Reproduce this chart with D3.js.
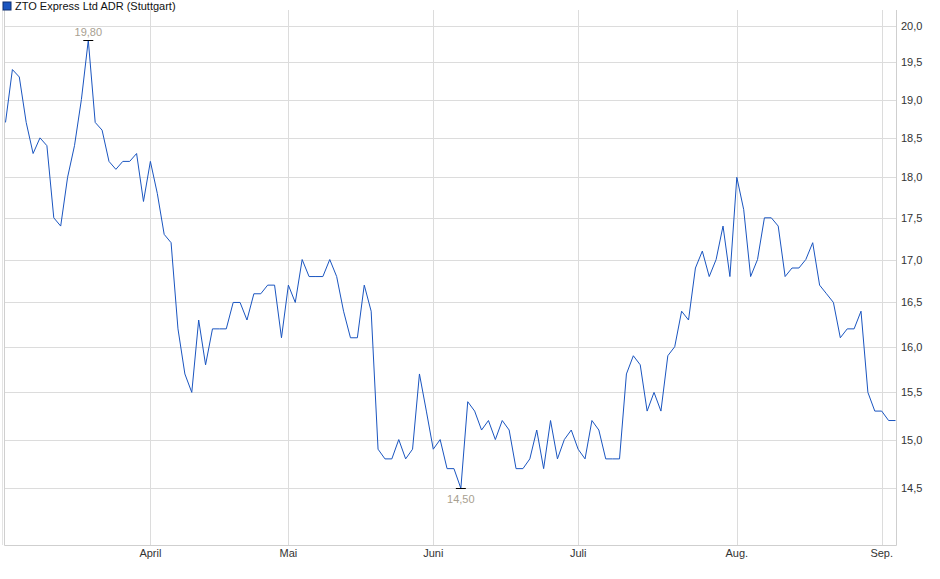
<!DOCTYPE html>
<html>
<head>
<meta charset="utf-8">
<script src="https://cdn.jsdelivr.net/npm/d3@7"></script>
<style>
  body { margin: 0; background: #fff; }
  text { font-family: "Liberation Sans", Arial, sans-serif; }
</style>
</head>
<body>
<svg id="chart" width="940" height="579"></svg>
<script>
const prices = [
  18.7, 19.4, 19.3, 18.7, 18.3, 18.5, 18.4, 17.5, 17.4, 18.0,
  18.4, 19.0, 19.8, 18.7, 18.6, 18.2, 18.1, 18.2, 18.2, 18.3,
  17.7, 18.2, 17.8, 17.3, 17.2, 16.2, 15.7, 15.5, 16.3, 15.8,
  16.2, 16.2, 16.2, 16.5, 16.5, 16.3, 16.6, 16.6, 16.7, 16.7,
  16.1, 16.7, 16.5, 17.0, 16.8, 16.8, 16.8, 17.0, 16.8, 16.4,
  16.1, 16.1, 16.7, 16.4, 14.9, 14.8, 14.8, 15.0, 14.8, 14.9,
  15.7, 15.3, 14.9, 15.0, 14.7, 14.7, 14.5, 15.4, 15.3, 15.1,
  15.2, 15.0, 15.2, 15.1, 14.7, 14.7, 14.8, 15.1, 14.7, 15.2,
  14.8, 15.0, 15.1, 14.9, 14.8, 15.2, 15.1, 14.8, 14.8, 14.8,
  15.7, 15.9, 15.8, 15.3, 15.5, 15.3, 15.9, 16.0, 16.4, 16.3,
  16.9, 17.1, 16.8, 17.0, 17.4, 16.8, 18.0, 17.6, 16.8, 17.0,
  17.5, 17.5, 17.4, 16.8, 16.9, 16.9, 17.0, 17.2, 16.7, 16.6,
  16.5, 16.1, 16.2, 16.2, 16.4, 15.5, 15.3, 15.3, 15.2, 15.2
];
const monthLabels = ["April", "Mai", "Juni", "Juli", "Aug.", "Sep."];
const monthIndex = [21, 41, 62, 83, 106, 127];
const yTicks = [14.5, 15, 15.5, 16, 16.5, 17, 17.5, 18, 18.5, 19, 19.5, 20];

const mLeft = 5, mRight = 896, mTop = 10, mBottom = 545;
const svg = d3.select("#chart");
const fmt = v => d3.format(".1f")(v).replace(".", ",");
const fmt2 = v => d3.format(".2f")(v).replace(".", ",");

const x = d3.scaleLinear().domain([0, prices.length - 1]).range([mLeft + 0.5, mRight - 0.5]);
const y = d3.scaleLog().domain([13.94, 20.22]).range([mBottom, mTop]);

// horizontal grid
svg.append("g").selectAll("line").data(yTicks).join("line")
  .attr("x1", mLeft).attr("x2", mRight)
  .attr("y1", d => Math.round(y(d)) + 0.5).attr("y2", d => Math.round(y(d)) + 0.5)
  .attr("stroke", "#dcdcdc");

// vertical month grid
svg.append("g").selectAll("line").data(monthIndex).join("line")
  .attr("x1", d => Math.round(x(d)) + 0.5).attr("x2", d => Math.round(x(d)) + 0.5)
  .attr("y1", mTop).attr("y2", mBottom)
  .attr("stroke", "#dcdcdc");

// frame
svg.append("path")
  .attr("d", `M${mLeft - 0.5},${mTop}V${mBottom + 0.5}H${mRight + 0.5}V${mTop}`)
  .attr("fill", "none").attr("stroke", "#cfcfcf");
svg.append("line").attr("x1", 2.5).attr("x2", 2.5).attr("y1", mTop).attr("y2", mBottom)
  .attr("stroke", "#e4e4e4");

// y axis labels
svg.append("g").selectAll("text").data(yTicks).join("text")
  .attr("x", 901).attr("y", d => y(d) + 4)
  .attr("font-size", 11).attr("fill", "#333")
  .text(fmt);

// x axis labels
svg.append("g").selectAll("text").data(monthIndex).join("text")
  .attr("x", d => x(d)).attr("y", 557)
  .attr("text-anchor", "middle").attr("font-size", 11).attr("fill", "#333")
  .text((d, i) => monthLabels[i]);

// line
svg.append("path").datum(prices)
  .attr("fill", "none").attr("stroke", "#1a55c0").attr("stroke-width", 1)
  .attr("d", d3.line().x((d, i) => x(i)).y(d => y(d)));

// max / min markers
const iMax = d3.maxIndex(prices), iMin = d3.minIndex(prices);
[[iMax, -1], [iMin, 1]].forEach(([i, dir]) => {
  const px = x(i), py = Math.round(y(prices[i])) + 0.5;
  svg.append("line").attr("x1", px - 5).attr("x2", px + 5).attr("y1", py).attr("y2", py)
    .attr("stroke", "#000");
  svg.append("text").attr("x", px).attr("y", dir < 0 ? py - 5 : py + 14)
    .attr("text-anchor", "middle").attr("font-size", 11).attr("fill", "#a8a090")
    .text(fmt2(prices[i]));
});

// title
svg.append("rect").attr("x", 3).attr("y", 2).attr("width", 8).attr("height", 8)
  .attr("fill", "#1a55c0").attr("stroke", "#0c2f70");
svg.append("text").attr("x", 15).attr("y", 10).attr("font-size", 11).attr("fill", "#111")
  .text("ZTO Express Ltd ADR (Stuttgart)");
</script>
</body>
</html>
